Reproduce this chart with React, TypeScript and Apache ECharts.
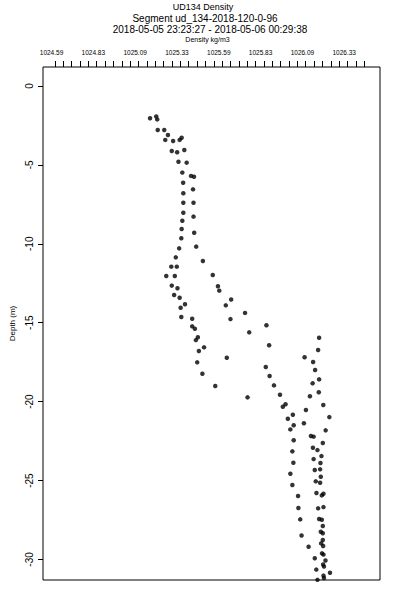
import React, { useEffect, useRef } from "react";
import * as echarts from "echarts";

const titleLines = [
  "UD134 Density",
  "Segment ud_134-2018-120-0-96",
  "2018-05-05 23:23:27 - 2018-05-06 00:29:38",
];
const xAxisTitle = "Density kg/m3";
const yAxisTitle = "Depth (m)";

const xTickLabels = ["1024.59", "1024.83", "1025.09", "1025.33", "1025.59", "1025.83", "1026.09", "1026.33"];
const xLabelStart = 1024.59;
const xLabelStep = 0.25;
const xLabelNudge = -0.02;
const xMinorStep = 0.05;
const xMinorCount = 38;
const yTickValues = [0, -5, -10, -15, -20, -25, -30];

const xMin = 1024.519;
const xMax = 1026.534;
const yMin = -31.3;
const yMax = 1.2;

const densities = [
  1025.159, 1025.196, 1025.202, 1025.205, 1025.244, 1025.266, 1025.25, 1025.297, 1025.336, 1025.348,
  1025.289, 1025.321, 1025.364, 1025.329, 1025.378, 1025.352, 1025.404, 1025.422, 1025.357, 1025.416,
  1025.358, 1025.358, 1025.419, 1025.358, 1025.419, 1025.352, 1025.348, 1025.423, 1025.346, 1025.435,
  1025.333, 1025.313, 1025.475, 1025.286, 1025.319, 1025.256, 1025.307, 1025.534, 1025.289, 1025.323,
  1025.565, 1025.573, 1025.303, 1025.336, 1025.644,
  1025.612, 1025.342, 1025.368, 1025.727, 1025.346, 1025.411, 1025.64, 1025.411, 1025.427, 1025.855,
  1025.445, 1025.433, 1025.752, 1025.482, 1025.451, 1025.871, 1026.17, 1026.164, 1025.618, 1026.083,
  1026.134, 1025.441, 1026.146, 1025.851, 1025.874, 1026.17, 1025.472, 1026.131, 1025.9, 1025.549,
  1026.168, 1025.936, 1026.115, 1025.742,
  1025.953, 1025.969, 1026.195, 1026.091, 1026.013, 1025.983, 1026.231, 1026.079, 1026.018, 1025.998,
  1026.209, 1026.121, 1026.137, 1026.018, 1026.192, 1026.133, 1026.16, 1026.01, 1026.184, 1026.137,
  1026.016, 1026.178, 1026.144, 1026.176, 1025.998, 1026.18, 1026.15, 1026.176, 1026.01, 1026.154,
  1026.186, 1026.196, 1026.044, 1026.046, 1026.164, 1026.196, 1026.057, 1026.17, 1026.186, 1026.192,
  1026.065, 1026.18, 1026.192, 1026.192, 1026.182, 1026.194, 1026.107, 1026.187, 1026.196, 1026.144,
  1026.208, 1026.194, 1026.199, 1026.153, 1026.235, 1026.196, 1026.199, 1026.16,
];

const depths = [
  -2.05, -1.93, -2.12, -2.79, -2.79, -3.11, -3.42, -3.49, -3.42, -3.28,
  -4.12, -4.2, -4.06, -4.8, -4.86, -5.49, -5.7, -5.75, -6.13, -6.55,
  -6.8, -7.4, -7.4, -8.03, -8.28, -8.54, -9.06, -9.3, -9.65, -10.18,
  -10.29, -10.86, -11.09, -11.45, -11.45, -12.04, -12.04, -11.98, -12.65, -12.82,
  -12.69, -12.97, -13.24, -13.42, -13.53,
  -13.9, -14.05, -13.83, -14.38, -14.64, -14.75, -14.77, -15.23, -15.38, -15.16,
  -15.92, -16.1, -15.61, -16.56, -16.79, -16.43, -15.95, -16.73, -17.22, -17.19,
  -17.49, -17.51, -18.0, -17.81, -18.38, -18.59, -18.23, -18.84, -18.97, -19.01,
  -19.41, -19.56, -19.66, -19.73,
  -20.32, -20.17, -20.21, -20.53, -20.83, -21.08, -20.98, -21.37, -21.5, -21.76,
  -21.82, -22.18, -22.22, -22.45, -22.62, -22.92, -23.07, -23.15, -23.45, -23.64,
  -23.87, -23.89, -24.33, -24.29, -24.57, -24.76, -25.05, -25.14, -25.28, -25.79,
  -25.94, -25.84, -25.98, -26.74, -26.76, -26.68, -27.46, -27.44, -27.48, -27.88,
  -28.48, -28.24, -28.34, -28.77, -28.98, -29.15, -29.19, -29.61, -29.69, -29.92,
  -30.06, -30.32, -30.45, -30.64, -30.84, -31.02, -31.17, -31.29,
];

const FONT = "'Liberation Sans', Arial, Helvetica, sans-serif";

export default function App() {
  const ref = useRef<HTMLDivElement>(null);

  useEffect(() => {
    if (!ref.current) return;
    const chart = echarts.init(ref.current, undefined, { renderer: "svg" });

    const labelValues = xTickLabels.map((_, i) => +(xLabelStart + i * xLabelStep + xLabelNudge).toFixed(4));
    const minorValues: number[] = [];
    for (let k = 0; k < xMinorCount; k++) minorValues.push(+(xLabelStart + k * xMinorStep).toFixed(4));

    const points = densities.map((d, i) => [d, depths[i]]);

    chart.setOption({
      animation: false,
      backgroundColor: "#ffffff",
      textStyle: { fontFamily: FONT },
      grid: {
        left: 39,
        top: 67,
        width: 341,
        height: 513,
        show: true,
        borderColor: "#000",
        borderWidth: 1,
        backgroundColor: "transparent",
      },
      graphic: [
        { type: "text", x: 203, y: 7, style: { text: titleLines[0], fontSize: 9, fontFamily: FONT, fill: "#000", textAlign: "center", textVerticalAlign: "middle" } },
        { type: "text", x: 205, y: 18, style: { text: titleLines[1], fontSize: 10, fontFamily: FONT, fill: "#000", textAlign: "center", textVerticalAlign: "middle" } },
        { type: "text", x: 210, y: 29.5, style: { text: titleLines[2], fontSize: 10, fontFamily: FONT, fill: "#000", textAlign: "center", textVerticalAlign: "middle" } },
        { type: "text", x: 207.5, y: 39.5, style: { text: xAxisTitle, fontSize: 7, fontFamily: FONT, fill: "#000", textAlign: "center", textVerticalAlign: "middle" } },
      ],
      xAxis: {
        type: "value",
        position: "top",
        min: xMin,
        max: xMax,
        splitLine: { show: false },
        axisLine: { show: false, onZero: false },
        axisTick: {
          show: true,
          customValues: minorValues,
          length: 6,
          inside: false,
          lineStyle: { color: "#000", width: 1 },
        },
        axisLabel: {
          show: true,
          customValues: labelValues,
          fontSize: 6.5,
          fontFamily: FONT,
          color: "#000",
          margin: 11,
          formatter: (v: number) => {
            const i = Math.round((v - xLabelStart) / xLabelStep);
            return xTickLabels[i] ?? "";
          },
        },
      },
      yAxis: {
        type: "value",
        min: yMin,
        max: yMax,
        name: yAxisTitle,
        nameLocation: "middle",
        nameGap: 31,
        nameTextStyle: { fontSize: 8, fontFamily: FONT, color: "#000", align: "center", verticalAlign: "middle" },
        splitLine: { show: false },
        axisLine: { show: false, onZero: false },
        axisTick: {
          show: true,
          customValues: yTickValues,
          length: 5,
          inside: false,
          lineStyle: { color: "#000", width: 1 },
        },
        axisLabel: {
          show: true,
          customValues: yTickValues,
          rotate: 90,
          align: "center",
          verticalAlign: "middle",
          fontSize: 10,
          fontFamily: FONT,
          color: "#000",
          margin: 14,
        },
      },
      series: [
        {
          type: "scatter",
          data: points,
          symbol: "circle",
          symbolSize: 4.5,
          itemStyle: { color: "#000" },
          clip: true,
        },
      ],
    });

    return () => chart.dispose();
  }, []);

  return (
    <div
      ref={ref}
      style={{ position: "absolute", left: 0, top: 0, width: 400, height: 600, background: "#fff" }}
    />
  );
}
